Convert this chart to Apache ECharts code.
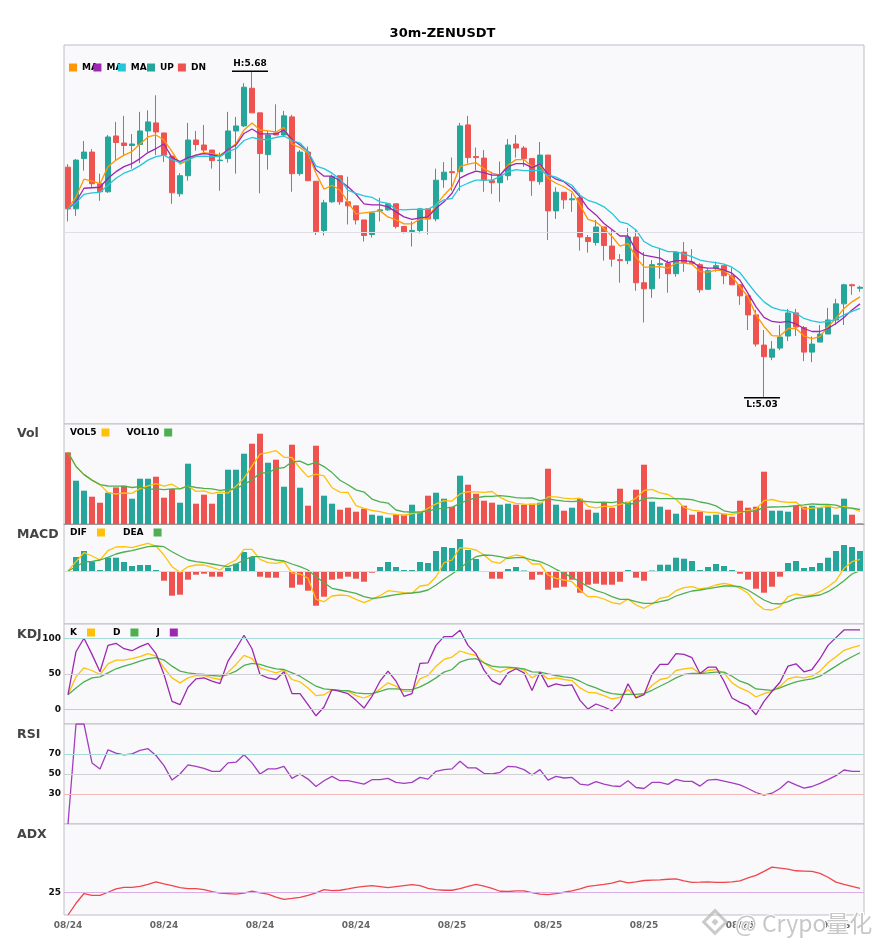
<!DOCTYPE html>
<html><head><meta charset="utf-8">
<script src="https://cdn.jsdelivr.net/npm/echarts@6/dist/echarts.min.js"></script>
<style>html,body{margin:0;padding:0;background:#fff}#c{width:885px;height:950px}</style>
</head><body><div id="c"></div>
<script>
const categories = [
"08/24 00:00","08/24 00:30","08/24 01:00","08/24 01:30","08/24 02:00","08/24 02:30","08/24 03:00","08/24 03:30","08/24 04:00","08/24 04:30","08/24 05:00","08/24 05:30",
"08/24 06:00","08/24 06:30","08/24 07:00","08/24 07:30","08/24 08:00","08/24 08:30","08/24 09:00","08/24 09:30","08/24 10:00","08/24 10:30","08/24 11:00","08/24 11:30",
"08/24 12:00","08/24 12:30","08/24 13:00","08/24 13:30","08/24 14:00","08/24 14:30","08/24 15:00","08/24 15:30","08/24 16:00","08/24 16:30","08/24 17:00","08/24 17:30",
"08/24 18:00","08/24 18:30","08/24 19:00","08/24 19:30","08/24 20:00","08/24 20:30","08/24 21:00","08/24 21:30","08/24 22:00","08/24 22:30","08/24 23:00","08/24 23:30",
"08/25 00:00","08/25 00:30","08/25 01:00","08/25 01:30","08/25 02:00","08/25 02:30","08/25 03:00","08/25 03:30","08/25 04:00","08/25 04:30","08/25 05:00","08/25 05:30",
"08/25 06:00","08/25 06:30","08/25 07:00","08/25 07:30","08/25 08:00","08/25 08:30","08/25 09:00","08/25 09:30","08/25 10:00","08/25 10:30","08/25 11:00","08/25 11:30",
"08/25 12:00","08/25 12:30","08/25 13:00","08/25 13:30","08/25 14:00","08/25 14:30","08/25 15:00","08/25 15:30","08/25 16:00","08/25 16:30","08/25 17:00","08/25 17:30",
"08/25 18:00","08/25 18:30","08/25 19:00","08/25 19:30","08/25 20:00","08/25 20:30","08/25 21:00","08/25 21:30","08/25 22:00","08/25 22:30","08/25 23:00","08/25 23:30",
"08/26 00:00","08/26 00:30","08/26 01:00","08/26 01:30"];

const openP = [5.489,5.406,5.506,5.519,5.456,5.440,5.551,5.537,5.532,5.534,
5.561,5.577,5.557,5.511,5.436,5.472,5.543,5.533,5.523,5.502,
5.506,5.561,5.571,5.646,5.597,5.514,5.557,5.553,5.589,5.476,
5.519,5.461,5.363,5.420,5.472,5.420,5.412,5.384,5.355,5.402,
5.404,5.416,5.371,5.361,5.363,5.406,5.386,5.464,5.480,5.480,
5.573,5.510,5.507,5.462,5.458,5.472,5.535,5.527,5.506,5.460,
5.513,5.402,5.439,5.424,5.428,5.349,5.339,5.370,5.332,5.305,
5.303,5.350,5.259,5.247,5.295,5.298,5.277,5.320,5.300,5.295,
5.246,5.288,5.293,5.273,5.255,5.233,5.195,5.135,5.111,5.129,
5.153,5.199,5.170,5.121,5.141,5.157,5.185,5.217,5.255,5.248];
const closeP = [5.406,5.503,5.519,5.456,5.440,5.549,5.538,5.532,5.535,5.561,
5.579,5.559,5.513,5.438,5.472,5.543,5.534,5.523,5.502,5.503,
5.561,5.571,5.648,5.597,5.516,5.553,5.553,5.591,5.476,5.519,
5.462,5.361,5.418,5.470,5.420,5.412,5.384,5.353,5.398,5.404,
5.416,5.371,5.359,5.363,5.406,5.386,5.463,5.479,5.478,5.571,
5.508,5.508,5.463,5.458,5.473,5.533,5.527,5.506,5.462,5.513,
5.402,5.439,5.424,5.426,5.350,5.341,5.370,5.333,5.306,5.303,
5.350,5.259,5.247,5.295,5.297,5.277,5.319,5.299,5.297,5.245,
5.283,5.293,5.273,5.255,5.233,5.195,5.137,5.112,5.127,5.151,
5.199,5.171,5.121,5.137,5.157,5.185,5.217,5.255,5.253,5.250];
const highP = [5.495,5.505,5.541,5.525,5.476,5.553,5.579,5.591,5.555,5.599,
5.602,5.632,5.557,5.511,5.477,5.577,5.561,5.573,5.523,5.518,
5.599,5.589,5.656,5.680,5.597,5.561,5.614,5.601,5.593,5.523,
5.530,5.461,5.424,5.474,5.472,5.470,5.412,5.384,5.400,5.428,
5.416,5.416,5.371,5.381,5.408,5.406,5.486,5.499,5.508,5.577,
5.591,5.528,5.523,5.480,5.500,5.545,5.553,5.531,5.506,5.539,
5.513,5.449,5.439,5.437,5.437,5.354,5.384,5.370,5.364,5.316,
5.368,5.364,5.320,5.304,5.328,5.304,5.319,5.340,5.326,5.298,
5.288,5.301,5.293,5.289,5.255,5.233,5.205,5.165,5.143,5.175,
5.207,5.207,5.173,5.152,5.175,5.209,5.227,5.257,5.257,5.253];
const lowP = [5.381,5.392,5.482,5.448,5.422,5.438,5.503,5.511,5.486,5.497,
5.519,5.513,5.499,5.416,5.430,5.462,5.522,5.516,5.486,5.442,
5.498,5.476,5.569,5.597,5.437,5.484,5.553,5.549,5.440,5.472,
5.462,5.354,5.353,5.418,5.414,5.375,5.375,5.341,5.349,5.381,
5.402,5.367,5.357,5.331,5.357,5.355,5.381,5.448,5.442,5.442,
5.496,5.483,5.440,5.436,5.420,5.463,5.508,5.490,5.432,5.454,
5.344,5.386,5.406,5.400,5.323,5.319,5.333,5.303,5.291,5.259,
5.296,5.243,5.180,5.229,5.267,5.239,5.271,5.281,5.296,5.239,
5.245,5.281,5.256,5.255,5.215,5.165,5.132,5.030,5.105,5.125,
5.143,5.153,5.103,5.101,5.141,5.157,5.175,5.175,5.235,5.241];

const ma5 = [5.406,5.430,5.465,5.461,5.456,5.490,5.503,5.513,5.520,5.535,
5.549,5.553,5.543,5.520,5.495,5.503,5.513,5.518,5.516,5.513,
5.523,5.536,5.563,5.577,5.563,5.561,5.559,5.568,5.535,5.528,
5.516,5.477,5.445,5.453,5.443,5.420,5.396,5.398,5.400,5.402,
5.390,5.384,5.376,5.376,5.386,5.386,5.414,5.433,5.450,5.490,
5.495,5.498,5.486,5.477,5.473,5.493,5.504,5.504,5.490,5.493,
5.467,5.457,5.450,5.440,5.414,5.385,5.380,5.367,5.351,5.332,
5.337,5.310,5.290,5.290,5.291,5.288,5.298,5.298,5.296,5.281,
5.280,5.284,5.283,5.271,5.251,5.231,5.195,5.172,5.154,5.153,
5.168,5.168,5.153,5.148,5.152,5.172,5.188,5.208,5.221,5.231];
const ma10 = [5.406,5.420,5.447,5.448,5.449,5.467,5.480,5.490,5.496,5.506,
5.518,5.526,5.535,5.508,5.500,5.508,5.513,5.516,5.514,5.510,
5.524,5.533,5.556,5.565,5.555,5.555,5.555,5.563,5.544,5.533,
5.520,5.484,5.471,5.471,5.462,5.450,5.435,5.416,5.414,5.414,
5.410,5.400,5.390,5.385,5.388,5.390,5.407,5.420,5.437,5.467,
5.475,5.481,5.478,5.473,5.473,5.490,5.496,5.496,5.488,5.495,
5.475,5.465,5.460,5.447,5.430,5.407,5.394,5.377,5.365,5.352,
5.352,5.324,5.314,5.311,5.308,5.299,5.303,5.303,5.301,5.290,
5.288,5.288,5.284,5.278,5.264,5.238,5.211,5.190,5.182,5.180,
5.182,5.177,5.168,5.162,5.162,5.168,5.178,5.190,5.205,5.217];
const ma20 = [5.406,5.418,5.435,5.438,5.439,5.453,5.467,5.477,5.483,5.492,
5.503,5.510,5.513,5.504,5.498,5.504,5.510,5.511,5.510,5.510,
5.520,5.526,5.542,5.548,5.544,5.544,5.548,5.551,5.542,5.537,
5.520,5.491,5.486,5.477,5.465,5.443,5.437,5.432,5.429,5.420,
5.417,5.405,5.404,5.405,5.405,5.405,5.414,5.424,5.427,5.450,
5.457,5.463,5.463,5.463,5.470,5.480,5.484,5.482,5.482,5.483,
5.473,5.469,5.461,5.453,5.433,5.423,5.418,5.410,5.397,5.380,
5.376,5.364,5.341,5.332,5.327,5.321,5.321,5.316,5.311,5.304,
5.301,5.299,5.296,5.290,5.279,5.258,5.238,5.221,5.210,5.205,
5.203,5.198,5.188,5.183,5.180,5.182,5.186,5.195,5.202,5.208];

const volume = [71.6,43.3,33.3,27.3,21.3,31.3,36.6,38.3,25.3,45.3,
45.3,47.3,26.3,35.0,21.3,60.3,20.3,29.3,20.3,30.3,
54.3,54.3,70.3,80.3,90.3,61.3,64.3,37.3,79.3,36.3,
18.3,78.3,28.3,20.3,14.3,16.3,12.3,15.3,9.3,8.3,
6.3,9.3,9.3,19.3,12.3,28.3,31.3,25.3,17.3,48.3,
39.3,30.3,23.3,21.3,19.3,20.3,19.3,19.3,20.3,21.3,
55.3,19.3,13.3,16.3,25.3,14.3,11.3,21.3,16.3,35.3,
22.3,34.3,59.3,22.3,17.3,14.3,10.3,18.3,9.3,12.3,
8.3,9.3,10.3,7.3,23.3,16.3,17.3,52.3,13.3,13.3,
12.3,18.3,17.3,18.3,16.3,18.3,9.3,25.3,9.3,0.5];
const vol5 = [71.6,57.5,49.4,43.9,39.4,31.3,30.0,31.0,30.6,35.4,
38.2,40.3,37.9,39.8,35.0,38.0,32.6,33.2,30.3,32.1,
30.9,37.7,45.9,57.9,69.9,71.3,73.3,66.7,66.5,55.7,
47.1,49.9,48.1,36.3,31.9,31.5,18.3,15.7,13.5,12.3,
10.3,9.7,8.5,10.5,11.3,15.7,20.1,23.3,22.9,30.1,
32.3,32.1,31.7,32.5,26.7,22.9,20.7,19.9,19.7,20.1,
27.1,27.1,25.9,25.1,25.9,17.7,16.1,17.7,17.7,19.7,
21.3,25.9,33.5,34.7,31.1,29.5,24.7,16.5,13.9,12.9,
11.7,11.5,9.9,9.5,11.7,13.3,14.9,23.3,24.5,22.5,
21.7,21.9,14.9,15.9,16.5,17.7,15.9,17.5,15.7,12.5];
const vol10 = [71.6,57.5,49.4,43.9,39.4,38.0,37.8,37.9,36.5,37.4,
34.7,35.1,34.4,35.2,35.2,38.1,36.5,35.6,35.1,33.6,
34.5,35.2,39.6,44.1,51.0,51.1,55.5,56.3,62.2,62.8,
59.2,61.6,57.4,51.4,43.8,39.3,34.1,31.9,24.9,22.1,
20.9,14.0,12.1,12.0,11.8,13.0,14.9,15.9,16.7,20.7,
24.0,26.1,27.5,27.7,28.4,27.6,26.4,25.8,26.1,23.4,
25.0,23.9,22.9,22.4,23.0,22.4,21.6,21.8,21.4,22.8,
19.5,21.0,25.6,26.2,25.4,25.4,25.3,25.0,24.3,22.0,
20.6,18.1,13.2,11.7,12.3,12.5,13.2,16.6,17.0,17.1,
17.5,18.4,19.1,20.2,19.5,19.7,18.9,16.2,15.8,14.5];

const macdHist = [0,14,20,9.3,1,13.3,13.3,9,5,6,
6,1,-9.7,-24.7,-23.7,-8.7,-3.7,-2.7,-5.7,-5.7,
3.3,7.3,19,14,-5.7,-6.7,-6.7,-0.7,-16.7,-13.7,
-19.7,-34.7,-25.7,-8.7,-7.7,-5.7,-7.7,-10.7,-1.7,4,
9,4,1,1,9,8,20,24,23,32,
21,12,-0.7,-7.7,-7.7,2,4,0.5,-8.7,-3.7,
-18.7,-16.7,-15.7,-8.7,-21.7,-13.7,-12.7,-13.7,-13.7,-10.7,
1,-6.7,-9.7,0.5,6.3,6.3,13.3,12.3,10,1,
4,7,5,1,-2.7,-8.7,-17.7,-21.7,-15.7,-5.7,
8,10,3,4,8,13.3,20,26,24,20];
const dif = [0,9.3,18.3,15,11,20.3,24,24.3,23.3,25.7,
27.7,25,16,4.3,-1.3,4.3,6,6,3.7,1,
7,11,21.7,21.7,11.7,8.3,7.7,9.3,-2,-3,
-7.3,-28.3,-30.7,-25,-24,-24.7,-28.3,-31.7,-28.3,-24.7,
-19.7,-20.7,-21.7,-22.3,-15,-14,-5.7,8.3,11,23.3,
22.7,21,16,9.3,7.7,13.7,16,14.3,7,7,
-4,-7.3,-9,-10.7,-19,-25.7,-25.7,-28,-31.7,-33,
-28,-34,-37.3,-33,-27.3,-25.7,-19.7,-16.7,-15.7,-18,
-16.7,-14,-12.3,-14,-17.3,-22.3,-32.3,-38.3,-39,-35.7,
-25.7,-23,-25,-24,-20.7,-15.7,-9.7,2.7,9.3,11.7];
const dea = [0,4.3,9,9.7,11,13.7,17,19,20.3,22.3,
24.3,25,24.3,19.3,15,11,9.3,8.3,7,5.7,
4.3,7,11,14.3,14.3,12.7,11,10,7,4.3,
1,-5.7,-11.7,-17.3,-19,-20.7,-22.3,-25.7,-27.3,-26.7,
-25,-23.7,-22.7,-22,-21,-19,-14,-8.3,-3,2.7,
9.3,14.3,16,15.7,14.3,12.7,13.3,13.3,11,9.3,
6,1.7,-2.3,-6.3,-10.7,-15.7,-19.7,-22,-25.7,-28.3,
-28.3,-30.7,-32.3,-32.3,-30.7,-29,-25,-22.3,-20,-19,
-17.7,-16.3,-15,-15,-15.7,-19,-24,-29,-32.3,-33,
-30.7,-27.3,-26.3,-25,-24,-20.7,-15.7,-9.7,-3,0.3];

const kLine = [21.1,46.0,58.7,54.9,49.3,64.3,69.5,69.5,71.4,74.2,
78.4,75.1,58.7,44.6,37.6,44.6,47.9,47.9,44.6,42.3,
52.6,63.4,76.1,71.4,58.7,54.9,51.6,55.4,42.3,39.0,
30.5,19.7,20.7,28.2,27.2,25.8,19.7,16.4,21.1,29.1,
37.6,32.9,25.8,25.8,43.2,47.9,61.0,70.4,73.7,82.2,
78.4,76.1,65.7,57.3,52.6,57.7,58.7,55.4,44.6,51.6,
43.2,44.6,42.3,40.8,30.5,24.4,23.5,19.7,15.0,17.4,
28.2,17.8,22.5,33.8,42.3,44.6,54.9,57.3,58.7,50.2,
54.9,56.3,51.6,37.6,30.5,25.8,17.8,22.5,25.8,32.9,
43.2,46.0,44.6,46.9,54.0,65.7,74.2,83.1,86.9,90.1];
const dLine = [21.1,30.5,39.0,44.6,46.0,51.6,57.3,61.0,64.3,68.1,
71.4,72.8,69.5,61.0,54.0,51.6,50.2,49.3,47.9,46.9,
49.3,54.0,62.0,64.8,63.4,60.1,57.3,56.3,51.6,46.9,
39.9,32.9,29.1,28.2,27.2,26.8,23.5,22.5,22.5,25.8,
29.1,29.1,28.2,28.2,31.9,37.6,44.6,52.6,56.3,66.7,
70.4,71.4,65.7,61.0,59.6,59.6,58.7,57.3,53.1,52.6,
50.2,47.9,46.0,44.6,39.9,34.3,30.5,25.8,22.5,21.6,
21.6,21.6,22.5,27.2,32.9,38.5,44.6,49.3,50.7,50.7,
51.6,52.6,52.6,46.9,39.9,36.2,29.1,28.2,27.2,30.5,
35.2,39.0,41.3,43.2,46.9,54.0,61.0,68.1,74.2,79.8];
const jLine = [21.1,81.2,100.0,77.5,53.1,90.1,93.0,85.4,82.6,88.3,
93.0,78.4,49.3,11.7,7.0,31.5,43.2,44.6,39.9,36.6,
68.1,85.4,104.2,85.4,49.3,44.6,42.3,53.1,22.5,22.5,
7.0,-8.5,3.8,28.2,25.8,22.5,13.1,2.3,18.8,39.9,
54.0,39.9,18.8,22.5,64.8,65.7,90.1,102.3,102.3,111.3,
90.1,78.4,55.4,40.8,35.2,51.6,57.3,51.6,26.8,52.6,
31.9,36.2,33.8,34.7,13.1,0.9,8.0,3.8,-1.4,10.3,
36.2,16.4,21.1,49.3,63.4,63.4,78.4,77.5,72.8,50.7,
59.6,59.6,39.9,16.4,10.3,5.6,-7.0,11.7,25.8,38.5,
61.0,64.3,53.1,56.3,71.4,90.1,100.9,111.7,111.7,111.7];

const rsi = [0,100,100,61.1,55.1,74.2,70.9,69.2,70.2,73.6,
75.3,68.5,58.4,43.9,50.0,59.1,57.7,55.7,52.7,52.7,
61.1,61.8,69.2,61.1,50.0,55.1,55.1,57.7,45.6,50.0,
44.9,37.5,43.3,47.6,43.3,43.3,41.6,39.9,44.3,44.3,
45.6,41.6,40.6,41.6,46.6,44.9,52.7,54.4,55.1,62.8,
56.1,56.1,50.7,50.0,51.7,57.7,57.1,54.4,49.0,54.4,
43.9,47.6,46.0,46.6,39.9,38.9,42.3,39.9,38.2,37.5,
43.3,36.5,35.5,41.6,41.6,39.6,44.6,42.6,42.6,37.9,
43.9,44.6,42.9,41.2,39.2,35.5,31.5,28.8,30.8,35.5,
42.6,39.2,35.9,37.5,40.6,44.3,48.3,54.0,52.7,52.7];
const adx = [0,12.9,23.6,21.5,21.5,25.0,28.6,30.4,30.4,31.5,
33.6,36.5,34.3,32.2,30.0,29.0,29.0,27.9,25.8,24.0,
23.6,22.9,24.0,26.1,24.3,22.9,19.7,17.2,18.2,19.3,
21.5,24.3,27.9,26.8,27.2,28.6,30.4,31.5,32.2,31.1,
30.0,31.1,32.2,33.3,32.2,29.3,27.9,27.2,27.2,29.0,
31.5,33.6,31.8,29.3,26.1,25.8,26.5,26.5,24.7,22.9,
22.5,23.6,25.0,26.5,28.6,31.5,32.5,33.6,35.0,37.6,
35.4,36.5,37.9,38.3,38.6,39.3,39.7,37.6,35.8,36.1,
36.5,35.8,35.8,36.5,37.6,40.8,43.6,47.9,52.6,51.5,
50.4,48.6,48.3,47.9,45.8,41.5,36.1,33.6,31.5,29.3];

const UP = '#26a69a', DN = '#ef5350';
const C_MA5 = '#ff9800', C_MA10 = '#9c27b0', C_MA20 = '#26c6da';
const C_Y = '#ffc107', C_G = '#4caf50', C_P = '#9c27b0';
const FONT = 'DejaVu Sans';

const candleData = openP.map((o, i) => [o, closeP[i], lowP[i], highP[i]]);
const volData = volume.map((v, i) => ({ value: v, itemStyle: { color: closeP[i] >= openP[i] ? UP : DN } }));
const histData = macdHist.map(v => ({ value: v, itemStyle: { color: v >= 0 ? UP : DN } }));
const hiIdx = highP.indexOf(Math.max(...highP));
const loIdx = lowP.indexOf(Math.min(...lowP));

const gridTops = [45, 424, 524, 624, 724, 824];
const gridHeights = [379, 100, 100, 100, 100, 91];
const grids = gridTops.map((t, g) => ({
  left: 64, width: 800, top: t, height: gridHeights[g], show: true,
  backgroundColor: '#f9f9fb', borderColor: '#bdbdc6', borderWidth: 1,
  containLabel: false, outerBoundsMode: 'none'
}));
const xAxes = gridTops.map((t, g) => ({
  type: 'category', gridIndex: g, data: categories, boundaryGap: true,
  axisLine: { show: g === 1, lineStyle: { color: '#999' } }, axisTick: { show: false }, splitLine: { show: false },
  axisLabel: { show: g === 5, interval: 11, formatter: v => v.slice(0, 5), color: '#666', fontWeight: 'bold', fontSize: 9, margin: 6, fontFamily: FONT }
}));
const hiddenY = (g, min, max) => ({ type: 'value', gridIndex: g, min, max, axisLabel: { show: false }, axisLine: { show: false }, axisTick: { show: false }, splitLine: { show: false } });
const labeledY = (g, min, max, interval, shown) => ({
  type: 'value', gridIndex: g, min, max, interval,
  axisLine: { show: false }, axisTick: { show: false }, splitLine: { show: false },
  axisLabel: { formatter: v => shown.includes(v) ? String(v) : '', color: '#111', fontWeight: 'bold', fontSize: 9, margin: 3, fontFamily: FONT }
});
const yAxes = [
  hiddenY(0, 4.978, 5.732),
  hiddenY(1, 0, 100),
  hiddenY(2, -53, 47),
  labeledY(3, -20, 120, 10, [0, 50, 100]),
  labeledY(4, 0, 100, 10, [30, 50, 70]),
  labeledY(5, 0, 100, 25, [25])
];

const line = (name, data, color, g, extra) => Object.assign({
  name, type: 'line', data, xAxisIndex: g, yAxisIndex: g, symbol: 'none', showSymbol: false,
  lineStyle: { color, width: 1.3 }, itemStyle: { color }, silent: true, z: 3
}, extra || {});
const hl = (v, color) => ({ yAxis: v, lineStyle: { color, width: 1, type: 'solid' } });
const marks = arr => ({ symbol: ['none', 'none'], silent: true, label: { show: false }, animation: false, data: arr });

const legBase = { icon: 'rect', itemWidth: 8, itemHeight: 8, padding: 0, selectedMode: false,
  textStyle: { fontSize: 9, fontWeight: 'bold', color: '#000', fontFamily: FONT } };
const legPad = Object.assign({}, legBase, { textStyle: Object.assign({}, legBase.textStyle, { padding: [0, 5, 0, 0] }) });

const panelTitle = (text, top) => ({ text, left: 17, top, padding: 0, textStyle: { fontSize: 12.5, fontWeight: 'bold', color: '#444', fontFamily: FONT } });

const option = {
  animation: false,
  backgroundColor: '#fff',
  textStyle: { fontFamily: FONT },
  title: [
    { text: '30m-ZENUSDT', left: 'center', top: 27, padding: 0, textStyle: { fontSize: 13, fontWeight: 'bold', color: '#000', fontFamily: FONT } },
    panelTitle('Vol', 427), panelTitle('MACD', 528), panelTitle('KDJ', 628), panelTitle('RSI', 728), panelTitle('ADX', 828)
  ],
  legend: [
    Object.assign({}, legBase, { data: ['MA5', 'MA10', 'MA20'], left: 69, top: 63, itemGap: -4.5, formatter: () => 'MA' }),
    Object.assign({}, legBase, { data: ['UP', 'DN'], left: 147, top: 63, itemGap: 4 }),
    Object.assign({}, legBase, { data: ['VOL5', 'VOL10'], left: 70, top: 428, align: 'right', itemGap: 17 }),
    Object.assign({}, legPad, { data: ['DIF', 'DEA'], left: 70, top: 528, align: 'right', itemGap: 18 }),
    Object.assign({}, legPad, { data: ['K', 'D', 'J'], left: 70, top: 628, align: 'right', itemGap: 18 })
  ],
  grid: grids,
  xAxis: xAxes,
  yAxis: yAxes,
  graphic: [
    { type: 'rect', x: 715, y: 922, rotation: Math.PI / 4, shape: { x: -8, y: -8, width: 16, height: 16 }, style: { fill: 'none', stroke: 'rgba(180,180,180,0.7)', lineWidth: 3 }, silent: true, z: 100 },
    { type: 'rect', x: 715, y: 922, rotation: Math.PI / 4, shape: { x: -2.5, y: -2.5, width: 5, height: 5 }, style: { fill: 'rgba(180,180,180,0.7)' }, silent: true, z: 100 },
    { type: 'text', x: 735, y: 923, style: { text: '@ Crypo量化', font: '23px "Noto Sans CJK SC"', fill: 'rgba(175,175,175,0.7)', stroke: '#ffffff', lineWidth: 2, verticalAlign: 'middle' }, silent: true, z: 100 }
  ],
  series: [
    {
      name: 'kline', type: 'candlestick', data: candleData, xAxisIndex: 0, yAxisIndex: 0, barWidth: 6, silent: true,
      itemStyle: { color: UP, color0: DN, borderColor: UP, borderColor0: DN, borderWidth: 1 },
      markLine: marks([hl(5.355, '#dedee4')]),
      markPoint: {
        symbol: 'rect', symbolSize: [36, 1.5], symbolOffset: [-2, 0], silent: true, animation: false,
        itemStyle: { color: '#000' },
        label: { show: true, color: '#000', fontWeight: 'bold', fontSize: 9, fontFamily: FONT, distance: 2 },
        data: [
          { coord: [categories[hiIdx], highP[hiIdx]], label: { position: 'top', formatter: 'H:' + highP[hiIdx].toFixed(2) } },
          { coord: [categories[loIdx], lowP[loIdx]], label: { position: 'bottom', formatter: 'L:' + lowP[loIdx].toFixed(2) } }
        ]
      }
    },
    line('MA5', ma5, C_MA5, 0),
    line('MA10', ma10, C_MA10, 0),
    line('MA20', ma20, C_MA20, 0),
    line('UP', [], UP, 0),
    line('DN', [], DN, 0),
    { name: 'Volume', type: 'bar', data: volData, xAxisIndex: 1, yAxisIndex: 1, barWidth: 6, silent: true },
    line('VOL5', vol5, C_Y, 1),
    line('VOL10', vol10, C_G, 1),
    { name: 'MACD', type: 'bar', data: histData, xAxisIndex: 2, yAxisIndex: 2, barWidth: 6, silent: true,
      markLine: marks([hl(0, '#d8d8dc')]) },
    line('DIF', dif, C_Y, 2),
    line('DEA', dea, C_G, 2),
    line('K', kLine, C_Y, 3, { markLine: marks([hl(100, '#a9dada'), hl(50, '#d0d0d4'), hl(0, '#f5b8b8')]) }),
    line('D', dLine, C_G, 3),
    line('J', jLine, C_P, 3),
    line('RSI', rsi, '#a23cc0', 4, { markLine: marks([hl(70, '#a9dada'), hl(50, '#d0d0d4'), hl(30, '#f5b8b8')]) }),
    line('ADX', adx, '#f0454a', 5, { markLine: marks([hl(25, '#dcaee6')]) })
  ]
};
const chart = echarts.init(document.getElementById('c'), null, { renderer: 'canvas' });
chart.setOption(option);
</script>
</body></html>
